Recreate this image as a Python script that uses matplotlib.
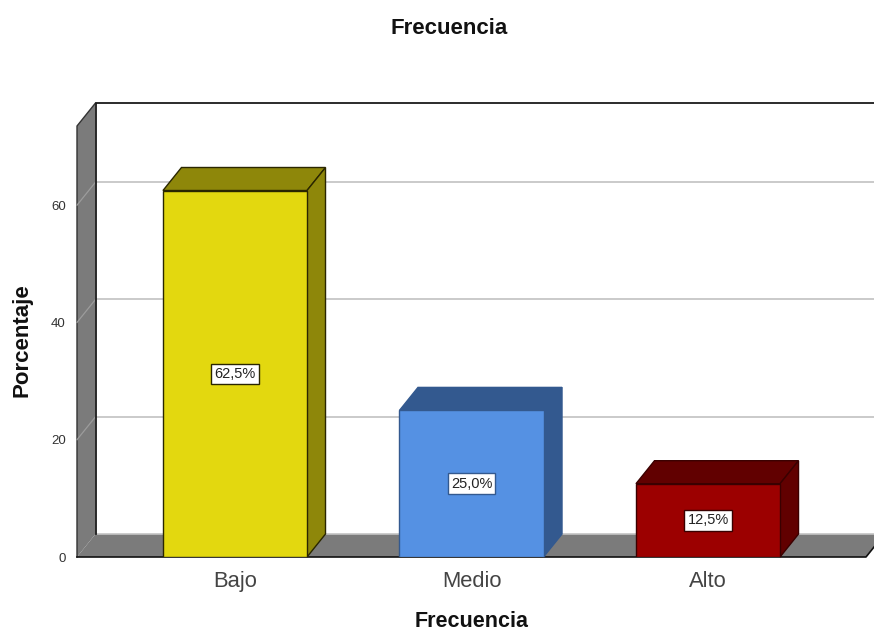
import matplotlib
matplotlib.use('Agg')
import matplotlib.pyplot as plt
from matplotlib.patches import Polygon

plt.rcParams['font.family'] = ['Liberation Sans', 'DejaVu Sans']

categories = ['Bajo', 'Medio', 'Alto']
percent = [62.5, 25.0, 12.5]
labels = ['62,5%', '25,0%', '12,5%']
y_ticks = [0, 20, 40, 60]

front_colors = ['#e3d80f', '#5591e3', '#9c0000']
dark_colors = ['#8e870a', '#33598f', '#610000']
edge_colors = ['#2a2600', '#33598f', '#3a0000']

W, H = 874, 632
fig = plt.figure(figsize=(W / 100, H / 100), dpi=100)
# front plane of the 3d box, in pixels
left, right, bottom, top = 77, 866, 557, 126
ax = fig.add_axes([left / W, 1 - bottom / H, (right - left) / W, (bottom - top) / H])

xmin, xmax = -0.668, 2.668
ymin, ymax = 0, 73.5
ax.set_xlim(xmin, xmax)
ax.set_ylim(ymin, ymax)

# depth of the fake 3d effect in data units
dx = 18.5 / ((right - left) / (xmax - xmin))
dy = 23 / ((bottom - top) / (ymax - ymin))
bar_w = 0.609

for s in ax.spines.values():
    s.set_visible(False)
ax.patch.set_visible(False)

# grey side wall and floor
wall = Polygon([(xmin, ymin), (xmin + dx, dy), (xmin + dx, ymax + dy), (xmin, ymax)],
               facecolor='#7b7b7b', edgecolor='none', clip_on=False, zorder=1)
floor = Polygon([(xmin, ymin), (xmin + dx, dy), (xmax + dx, dy), (xmax, ymin)],
                facecolor='#7b7b7b', edgecolor='none', clip_on=False, zorder=1)
ax.add_patch(wall)
ax.add_patch(floor)
ax.plot([xmin, xmin, xmin + dx], [ymin, ymax, ymax + dy], color='#333333', lw=1.0, clip_on=False, zorder=2)
ax.plot([xmin, xmax, xmax + dx], [ymin, ymin, dy], color='#111111', lw=1.2, clip_on=False, zorder=2)
ax.plot([xmin + dx, xmax + dx], [dy, dy], color='#c4c4c4', lw=1.2, clip_on=False, zorder=2)

# grid lines run over the side wall and along the back
for t in y_ticks[1:]:
    ax.plot([xmin, xmin + dx], [t, t + dy], color='#9c9c9c', lw=0.9, clip_on=False, zorder=2)
    ax.plot([xmin + dx, xmax + dx], [t + dy, t + dy], color='#bcbcbc', lw=1.1, clip_on=False, zorder=2)

# back wall frame
ax.plot([xmin + dx, xmin + dx, xmax + dx], [dy, ymax + dy, ymax + dy], color='#1a1a1a', lw=1.3,
        clip_on=False, zorder=3)

x = list(range(len(categories)))
ax.bar(x, percent, width=bar_w, color=front_colors, edgecolor=edge_colors, linewidth=1.0, zorder=5)

for i, v in enumerate(percent):
    x0, x1 = i - bar_w / 2, i + bar_w / 2
    ax.add_patch(Polygon([(x0, v), (x0 + dx, v + dy), (x1 + dx, v + dy), (x1, v)],
                         facecolor=dark_colors[i], edgecolor=edge_colors[i], lw=1.0, zorder=4, clip_on=False))
    ax.add_patch(Polygon([(x1, 0), (x1 + dx, dy), (x1 + dx, v + dy), (x1, v)],
                         facecolor=dark_colors[i], edgecolor=edge_colors[i], lw=1.0, zorder=4, clip_on=False))
    ax.text(i, v / 2, labels[i], ha='center', va='center', fontsize=10.5, color='#222222', zorder=6,
            bbox=dict(boxstyle='square,pad=0.22', facecolor='white', edgecolor=edge_colors[i], linewidth=1.0))

ax.set_xticks(x)
ax.set_xticklabels(categories, fontsize=15.8, color='#444444')
ax.set_yticks(y_ticks)
ax.set_yticklabels([str(t) for t in y_ticks], fontsize=9.5, color='#333333')
ax.tick_params(axis='both', length=0)
ax.tick_params(axis='x', pad=10)
ax.tick_params(axis='y', pad=8)

ax.set_xlabel('Frecuencia', fontsize=15.5, fontweight='bold', labelpad=13.5, color='#111111')
fig.text(22 / W, 1 - 340 / H, 'Porcentaje', rotation=90, ha='center', va='center', fontsize=16, fontweight='bold', color='#111111')
fig.text(449 / W, 1 - 28.5 / H, 'Frecuencia', ha='center', va='center', fontsize=16, fontweight='bold', color='#111111')

fig.savefig('out.png', dpi=100)
